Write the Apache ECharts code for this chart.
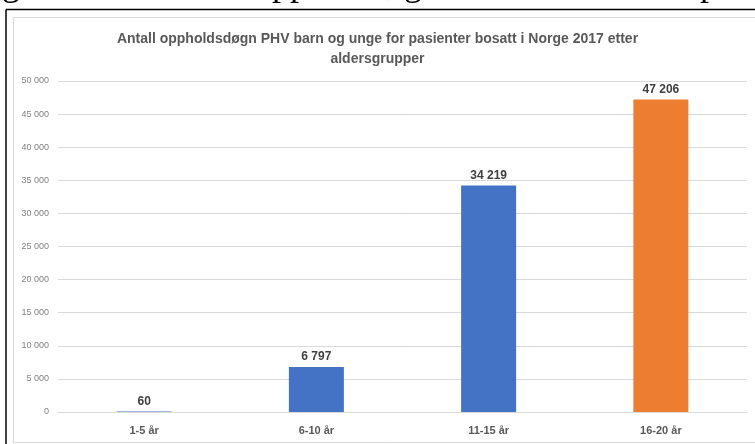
<!DOCTYPE html>
<html>
<head>
<meta charset="utf-8">
<script src="https://cdn.jsdelivr.net/npm/echarts@6/dist/echarts.min.js"></script>
<style>
  html, body { margin: 0; padding: 0; background: #ffffff; }
  #chart { width: 755px; height: 444px; }
</style>
</head>
<body>
<div id="chart"></div>
<script>
// Age groups and number of patient days (oppholdsdøgn) per group
const categories = ['1-5 år', '6-10 år', '11-15 år', '16-20 år'];
const values = [60, 6797, 34219, 47206];
const barColors = ['#4472C4', '#4472C4', '#4472C4', '#ED7D31'];

const yMin = 0;
const yMax = 50000;
const yStep = 5000;

const titleText = 'Antall oppholdsdøgn PHV barn og unge for pasienter bosatt i Norge 2017 etter\naldersgrupper';

// Norwegian number formatting: space as thousands separator
function fmt(v) {
  return String(Math.round(v)).replace(/\B(?=(\d{3})+(?!\d))/g, ' ');
}

const font = '"Liberation Sans", Arial, sans-serif';
const serif = '36px "Liberation Serif", "Times New Roman", serif';

const chart = echarts.init(document.getElementById('chart'), null, { renderer: 'canvas' });

chart.setOption({
  backgroundColor: '#ffffff',
  animation: false,
  title: {
    text: titleText,
    left: 'center',
    top: 24,
    textStyle: {
      fontFamily: font,
      fontSize: 14,
      fontWeight: 'bold',
      color: '#595959',
      lineHeight: 20,
      align: 'center'
    }
  },
  grid: { left: 58, right: 8, top: 81, bottom: 32, containLabel: false },
  xAxis: {
    type: 'category',
    data: categories,
    axisLine: { lineStyle: { color: '#d9d9d9', width: 1 } },
    axisTick: { show: false },
    axisLabel: {
      margin: 13,
      fontFamily: font,
      fontSize: 11,
      fontWeight: 'bold',
      color: '#595959'
    }
  },
  yAxis: {
    type: 'value',
    min: yMin,
    max: yMax,
    interval: yStep,
    axisLine: { show: false },
    axisTick: { show: false },
    splitLine: { lineStyle: { color: '#d9d9d9', width: 1 } },
    axisLabel: {
      margin: 9,
      fontFamily: font,
      fontSize: 9,
      color: '#808080',
      formatter: fmt
    }
  },
  series: [{
    type: 'bar',
    barWidth: 55,
    data: values.map((v, i) => ({ value: v, itemStyle: { color: barColors[i] } })),
    label: {
      show: true,
      position: 'top',
      distance: 4,
      fontFamily: font,
      fontSize: 12,
      fontWeight: 'bold',
      color: '#404040',
      formatter: p => fmt(p.value)
    }
  }],
  graphic: [
    // surrounding document text line, mostly cut off above the frame
    { type: 'text', left: 2, top: -32, style: { text: 'g', font: serif, fill: '#000' } },
    { type: 'text', left: 272, top: -32, style: { text: 'pp', font: serif, fill: '#000' } },
    { type: 'text', left: 386, top: -32, style: { text: ', g', font: serif, fill: '#000' } },
    { type: 'text', left: 700, top: -32, style: { text: 'p', font: serif, fill: '#000' } },
    // black frame around the figure
    { type: 'line', shape: { x1: 6, y1: 9.5, x2: 755, y2: 9.5 }, style: { stroke: '#000', lineWidth: 1.5 } },
    { type: 'line', shape: { x1: 6, y1: 9.5, x2: 6, y2: 444 }, style: { stroke: '#000', lineWidth: 1.5 } },
    // light chart-area border
    { type: 'rect', shape: { x: 13.5, y: 17.5, width: 760, height: 425 }, style: { fill: 'none', stroke: '#d9d9d9', lineWidth: 1 }, silent: true }
  ]
});
</script>
</body>
</html>
